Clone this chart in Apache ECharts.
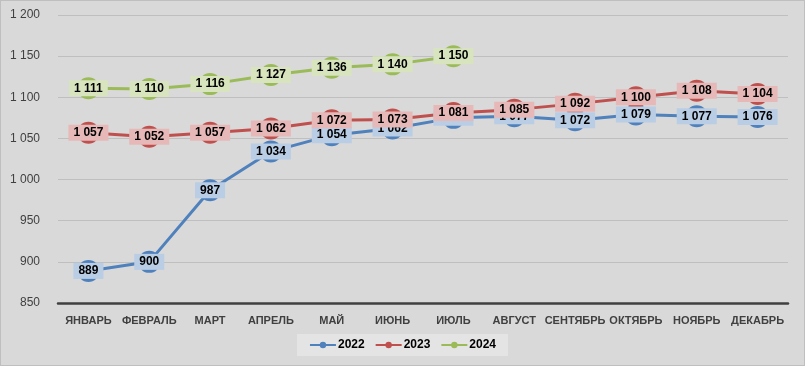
<!DOCTYPE html>
<html><head><meta charset="utf-8">
<script src="https://cdn.jsdelivr.net/npm/echarts@6/dist/echarts.min.js"></script>
<style>html,body{margin:0;padding:0;background:#d9d9d9}#c{width:805px;height:366px;box-sizing:border-box;border:1px solid #bfbfbf}</style>
</head><body><div id="c"></div>
<script>
var months = ['ЯНВАРЬ','ФЕВРАЛЬ','МАРТ','АПРЕЛЬ','МАЙ','ИЮНЬ','ИЮЛЬ','АВГУСТ','СЕНТЯБРЬ','ОКТЯБРЬ','НОЯБРЬ','ДЕКАБРЬ'];
var s2022 = [889, 900, 987, 1034, 1054, 1062, 1075, 1077, 1072, 1079, 1077, 1076];
var s2023 = [1057, 1052, 1057, 1062, 1072, 1073, 1081, 1085, 1092, 1100, 1108, 1104];
var s2024 = [1111, 1110, 1116, 1127, 1136, 1140, 1150];
var seriesNames = ['2022','2023','2024'];

var FONT = "'Liberation Sans',Arial,sans-serif";
function fmt(v){ v = Math.round(v); var s = String(v); return s.length>3 ? s.slice(0,s.length-3)+' '+s.slice(-3) : s; }

function mk(name, data, color, light){
  return {
    name: name, type: 'line', data: data,
    symbol: 'circle', symbolSize: 22,
    itemStyle: {color: color},
    lineStyle: {width: 3, color: color},
    label: {show: true, position: 'inside', formatter: function(p){return fmt(p.value);},
      backgroundColor: light, color: '#000', fontWeight: 'bold', fontSize: 12, fontFamily: FONT,
      padding: [2,5,1,5], lineHeight: 13},
    emphasis: {disabled: true},
    animation: false
  };
}
var chart = echarts.init(document.getElementById('c'), null, {renderer:'canvas'});
chart.setOption({
  backgroundColor: '#d9d9d9',
  animation: false,
  grid: {left: 57, right: 16, top: 14, bottom: 62},
  xAxis: {type: 'category', data: months, boundaryGap: true,
    axisLine: {lineStyle: {color: '#404040', width: 2.5}},
    axisTick: {show: false},
    axisLabel: {color: '#404040', fontWeight: 'bold', fontSize: 11, fontFamily: FONT, margin: 12, interval: 0}},
  yAxis: {type: 'value', min: 850, max: 1200, interval: 50,
    axisLine: {show: false}, axisTick: {show: false},
    splitLine: {lineStyle: {color: '#bfbfbf', width: 1}},
    axisLabel: {color: '#404040', fontSize: 12, fontFamily: FONT, margin: 18, formatter: fmt}},
  legend: {bottom: 9, left: 'center', data: seriesNames,
    backgroundColor: '#e4e4e4', padding: [5,12,5,12],
    itemWidth: 26, itemHeight: 8, itemGap: 10,
    textStyle: {color: '#000', fontWeight: 'bold', fontSize: 12, fontFamily: FONT, padding: [0,0,0,-3]}},
  series: [
    mk('2022', s2022, '#4f81bd', '#b9cde5'),
    mk('2023', s2023, '#c0504d', '#e6b9b8'),
    mk('2024', s2024, '#9bbb59', '#d7e4bd')
  ]
});
</script></body></html>
